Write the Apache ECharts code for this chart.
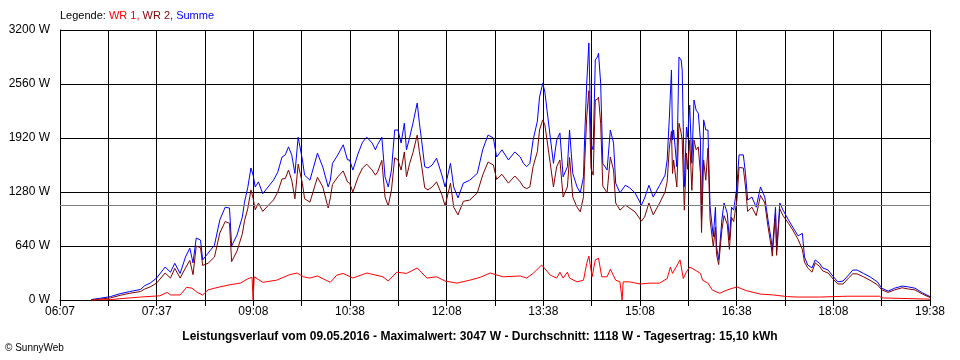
<!DOCTYPE html>
<html>
<head>
<meta charset="utf-8">
<script src="https://cdn.jsdelivr.net/npm/echarts@6/dist/echarts.min.js"></script>
<style>html,body{margin:0;padding:0;background:#fff;}#c{width:960px;height:360px;}</style>
</head>
<body>
<div id="c"></div>
<script>
// minutes after 06:07
const tickLabels = ['06:07','07:37','09:08','10:38','12:08','13:38','15:08','16:38','18:08','19:38'];
const spanMinutes = 811;
const avgValue = 1118;
const yTicks = [0, 640, 1280, 1920, 2560, 3200];

const tMain = [29,37,47,56,65,75,79,84,90,98,
103,107,112,117,121,124,127,131,133,138,
144,149,154,158,160,165,170,172,175,178,
180,182,185,189,194,199,203,207,210,213,
216,219,222,226,228,233,240,245,250,252,
254,259,264,268,270,273,278,282,286,291,
294,296,300,303,306,309,312,315,318,321,
323,326,329,333,335,337,340,343,347,351,
356,359,364,367,371,376,382,389,394,399,
404,407,412,418,424,429,432,435,438,441,
445,447,450,452,454,457,460,463,466,469,
473,475,478,482,485,488,489,491,493,495,
497,499,501,502,504,506,510,513,516,518,
522,527,531,536,542,545,549,553,559,564,
566,568,570,571,572,575,577,579,580,582,
584,585,587,589,591,593,595,597,598,600,
602,604,606,609,611,612,614,617,619,622,
624,626,628,631,633,637,639,641,645,649,
653,657,660,663,664,667,668,671,674,679,
683,688,692,694,697,701,704,708,711,716,
721,725,730,735,739,743,749,755,762,766,
772,778,785,791,797,804,811];

const summe = [5,20,40,75,100,125,170,200,260,390,
330,435,315,510,615,440,735,710,475,555,
650,950,1100,1090,640,770,985,1160,1330,1565,
1480,1340,1400,1260,1340,1420,1515,1695,1720,1815,
1720,1500,1930,1660,1480,1420,1740,1575,1340,1420,
1620,1720,1840,1660,1660,1540,1740,1870,1930,1860,
1780,1840,1930,1460,1340,1540,2015,2015,1860,2095,
1780,1930,2095,2335,2100,1900,1580,1565,1600,1680,
1480,1340,1620,1340,1210,1385,1420,1500,1780,1955,
1920,1695,1780,1660,1755,1695,1620,1580,1620,1895,
2120,2405,2570,2465,2250,1930,1620,1895,1980,1460,
1580,2015,1500,1340,1270,1460,1895,2570,3045,1850,
1780,2845,2880,2925,2570,1620,1540,2015,1860,1385,
1270,1360,1330,1270,1125,1210,1360,1220,1360,1480,
1660,2155,2725,1895,2015,1580,2880,2845,2725,1340,
2050,1930,2310,1620,2370,2250,2215,1895,950,2135,
2015,2015,1100,750,1100,630,480,950,1150,1030,
710,1100,1065,1340,1720,1720,1500,1185,1220,1100,
1340,1220,950,710,590,1100,590,1150,1065,950,
865,760,790,510,415,380,475,435,380,355,
275,215,225,295,355,355,315,275,215,140,
105,140,165,155,140,85,40];

const wr2 = [0,10,25,55,80,100,130,155,200,320,
260,375,260,380,470,300,640,620,410,435,
510,795,930,910,455,580,785,940,1080,1305,
1205,1070,1150,1050,1120,1185,1280,1435,1440,1540,
1420,1200,1610,1380,1200,1160,1455,1340,1090,1210,
1370,1460,1530,1400,1385,1280,1460,1565,1610,1540,
1480,1515,1655,1220,1115,1305,1685,1660,1540,1755,
1460,1620,1745,1955,1760,1600,1330,1305,1340,1400,
1245,1115,1385,1100,1010,1170,1185,1270,1480,1635,
1600,1430,1490,1385,1470,1400,1340,1320,1340,1580,
1760,2015,2135,2075,1895,1620,1340,1580,1660,1220,
1340,1690,1220,1100,1045,1225,1595,2170,2480,1560,
1480,2370,2380,2405,2095,1350,1270,1695,1540,1150,
1065,1125,1090,1045,935,985,1150,1010,1150,1280,
1405,1800,2000,1500,1660,1340,2095,1980,1895,1065,
1740,1550,1895,1300,1895,1780,1815,1500,800,1660,
1420,1800,950,630,865,540,420,830,1000,900,
600,980,930,1185,1570,1565,1340,1050,1100,1000,
1240,1150,870,630,520,1020,530,1080,1000,910,
830,720,600,450,380,330,440,400,345,320,
245,190,190,260,310,310,275,235,180,120,
90,120,145,130,120,70,30];

const tWr1 = [29,47,56,75,93,100,103,112,118,123,
128,133,138,144,149,158,168,175,179,180,
181,189,202,214,221,227,233,240,252,258,
264,273,286,301,306,314,323,333,342,351,
359,370,382,392,401,413,429,435,441,449,
457,463,466,469,473,475,482,488,491,493,
496,499,502,505,510,513,518,522,524,525,
531,541,550,559,566,569,571,578,581,584,
587,592,597,599,604,608,612,615,622,631,
640,653,665,678,688,708,734,764,766,811];

const wr1 = [0,5,15,35,50,90,60,60,150,140,
90,60,120,140,155,180,200,250,270,0,
275,210,235,300,320,275,260,285,210,295,
315,260,320,275,225,330,315,380,260,275,
225,200,235,270,320,275,285,260,315,415,
295,260,330,260,330,260,215,235,435,520,
275,475,495,275,275,365,235,215,0,215,
215,190,200,200,255,390,315,475,255,335,
390,355,315,235,200,120,95,80,120,155,
110,70,60,40,35,35,45,45,25,10];

const FONT = 'Liberation Sans';
const step = spanMinutes / 18;
const zip = (ts, vs) => ts.map((t, i) => [t, vs[i]]);

const chart = echarts.init(document.getElementById('c'), null, {renderer: 'canvas'});
chart.setOption({
  animation: false,
  backgroundColor: '#ffffff',
  title: [
    {
      text: '{k|Legende:} {a|WR 1,} {b|WR 2,} {c|Summe}',
      left: 60, top: 10, padding: 0,
      textStyle: {
        fontFamily: FONT, fontSize: 11, fontWeight: 'normal',
        rich: {
          k: {color: '#000000', fontFamily: FONT, fontSize: 11},
          a: {color: '#ff0000', fontFamily: FONT, fontSize: 11},
          b: {color: '#800000', fontFamily: FONT, fontSize: 11},
          c: {color: '#0000ff', fontFamily: FONT, fontSize: 11}
        }
      }
    },
    {
      text: 'Leistungsverlauf vom 09.05.2016 - Maximalwert: 3047 W - Durchschnitt: 1118 W - Tagesertrag: 15,10 kWh',
      left: 'center', top: 331, padding: 0,
      textStyle: {fontFamily: FONT, fontSize: 12, fontWeight: 'bold', color: '#000000'}
    },
    {
      text: '© SunnyWeb',
      left: 5, top: 343, padding: 0,
      textStyle: {fontFamily: FONT, fontSize: 10, fontWeight: 'normal', color: '#000000'}
    }
  ],
  grid: {left: 60, right: 30, top: 30, bottom: 60, containLabel: false},
  xAxis: {
    type: 'value', min: 0, max: spanMinutes, interval: step,
    axisLine: {show: true, lineStyle: {color: '#000', width: 1}},
    axisTick: {show: true, length: 6, lineStyle: {color: '#000', width: 1}},
    splitLine: {show: true, lineStyle: {color: '#000', width: 1}},
    axisLabel: {
      show: true, margin: 6, color: '#000', fontFamily: FONT, fontSize: 12,
      showMinLabel: true, showMaxLabel: true,
      formatter: function (v) {
        const i = Math.round(v / step);
        return (i % 2 === 0) ? (tickLabels[i / 2] || '') : '';
      }
    }
  },
  yAxis: {
    type: 'value', min: yTicks[0], max: yTicks[yTicks.length - 1], interval: yTicks[1] - yTicks[0],
    axisLine: {show: true, lineStyle: {color: '#000', width: 1}},
    axisTick: {show: false},
    splitLine: {show: true, lineStyle: {color: '#000', width: 1}},
    axisLabel: {
      margin: 10, color: '#000', fontFamily: FONT, fontSize: 12,
      formatter: function (v) { return v + ' W'; }
    }
  },
  series: [
    {
      name: 'Summe', type: 'line', data: zip(tMain, summe),
      showSymbol: false, symbol: 'none', lineStyle: {color: '#0000ff', width: 1},
      itemStyle: {color: '#0000ff'}, silent: true, z: 3,
      markLine: {
        silent: true, symbol: 'none', label: {show: false},
        lineStyle: {color: '#808080', width: 1, type: 'solid'},
        data: [{yAxis: avgValue}]
      }
    },
    {
      name: 'WR 2', type: 'line', data: zip(tMain, wr2),
      showSymbol: false, symbol: 'none', lineStyle: {color: '#800000', width: 1},
      itemStyle: {color: '#800000'}, silent: true, z: 4
    },
    {
      name: 'WR 1', type: 'line', data: zip(tWr1, wr1),
      showSymbol: false, symbol: 'none', lineStyle: {color: '#ff0000', width: 1},
      itemStyle: {color: '#ff0000'}, silent: true, z: 5
    }
  ]
});
</script>
</body>
</html>
